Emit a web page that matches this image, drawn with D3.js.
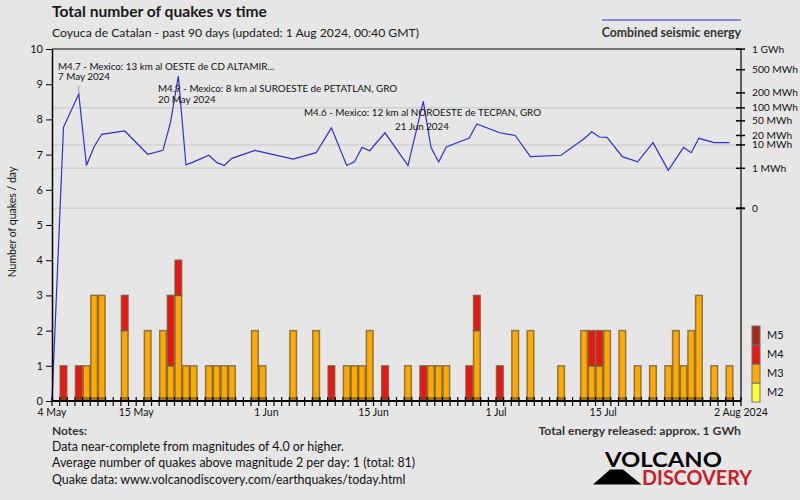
<!DOCTYPE html>
<html>
<head>
<meta charset="utf-8">
<script src="https://cdn.jsdelivr.net/npm/d3@7"></script>
<style>
  html, body { margin: 0; padding: 0; background: #e6e6e6; }
  svg { display: block; }
  text { font-family: Lato, "Open Sans", sans-serif; }
</style>
</head>
<body>
<svg id="chart" width="800" height="500"></svg>
<script>
// ---------------- DATA ----------------
const startDate = "2024-05-04";
const endDate = "2024-08-02";
const quakeDates = [
  "2024-05-05","2024-05-07","2024-05-08","2024-05-09","2024-05-10","2024-05-13",
  "2024-05-16","2024-05-18","2024-05-19","2024-05-20","2024-05-21","2024-05-22",
  "2024-05-24","2024-05-25","2024-05-26","2024-05-27","2024-05-30","2024-05-31",
  "2024-06-04","2024-06-07","2024-06-09","2024-06-11","2024-06-12","2024-06-13",
  "2024-06-14","2024-06-16","2024-06-19","2024-06-21","2024-06-22","2024-06-23",
  "2024-06-24","2024-06-27","2024-06-28","2024-07-01","2024-07-03","2024-07-05",
  "2024-07-09","2024-07-12","2024-07-13","2024-07-14","2024-07-15","2024-07-17",
  "2024-07-19","2024-07-21","2024-07-23","2024-07-24","2024-07-25","2024-07-26",
  "2024-07-27","2024-07-29","2024-07-31"
];
const m2Counts = quakeDates.map(() => 0);
const m3Counts = [
  0,0,1,3,3,2,
  2,2,1,3,1,1,
  1,1,1,1,2,1,
  2,2,0,1,1,1,
  2,0,1,0,1,1,
  1,0,2,0,2,2,
  1,2,1,1,2,2,
  1,1,1,2,1,2,
  3,1,1
];
const m4Counts = [
  1,1,0,0,0,1,
  0,0,2,1,0,0,
  0,0,0,0,0,0,
  0,0,1,0,0,0,
  0,1,0,1,0,0,
  0,1,1,1,0,0,
  0,0,1,1,0,0,
  0,0,0,0,0,0,
  0,0,0
];
const m5Counts = quakeDates.map(() => 0);
// daily combined seismic energy (MWh)
const energyMWh = [
  34,190,1.4,8.7,21.7,27,
  4.5,6.4,47.6,396,1.5,2.1,
  4.1,2.0,1.4,3.05,6.4,5.5,
  2.8,5.2,33,1.4,2.1,8.2,
  6.2,24,1.4,137,8.2,2.1,
  8.5,16.8,41.6,24,20,3.6,
  4.1,16,25.8,18,17.6,3.6,
  2.1,11.9,0.77,2.9,8.2,5.2,
  16.4,11.9,11.9
];
const countTicks = [0,1,2,3,4,5,6,7,8,9,10];
const energyTicks = [1000,500,200,100,50,20,10,1,0];
const energyTickLabels = ["1 GWh","500 MWh","200 MWh","100 MWh","50 MWh","20 MWh","10 MWh","1 MWh","0"];
const energyGrid = [100,10,1,0];
const xLabelDates = ["2024-05-04","2024-05-15","2024-06-01","2024-06-15","2024-07-01","2024-07-15","2024-08-02"];
const xLabels = ["4 May","15 May","1 Jun","15 Jun","1 Jul","15 Jul","2 Aug 2024"];
const annoTitles = [
  "M4.7 - Mexico: 13 km al OESTE de CD ALTAMIR...",
  "M4.9 - Mexico: 8 km al SUROESTE de PETATLAN, GRO",
  "M4.6 - Mexico: 12 km al NOROESTE de TECPAN, GRO"
];
const annoDates = ["7 May 2024","20 May 2024","21 Jun 2024"];
const magKeys = ["M2","M3","M4","M5"];
const magColors = ["#ffff33","#ffaa00","#ee1414","#a82a14"];
const notes = [
  "Data near-complete from magnitudes of 4.0 or higher.",
  "Average number of quakes above magnitude 2 per day: 1 (total: 81)",
  "Quake data: www.volcanodiscovery.com/earthquakes/today.html"
];

// ---------------- CHART ----------------
const svg = d3.select("#chart");
const parse = d3.utcParse("%Y-%m-%d");
const L = 52, R = 741, T = 49, B = 401;

svg.append("rect").attr("width", 800).attr("height", 500).attr("fill", "#e6e6e6");

const x = d3.scaleUtc().domain([parse(startDate), parse(endDate)]).range([L, R]);
const yC = d3.scaleLinear().domain([0, 10]).range([B, T]);
const yE = d3.scalePow().exponent(0.2).domain([0, 1000]).range([208.3, 49.1]);

// gridlines
svg.append("g").selectAll("line").data(energyGrid).join("line")
  .attr("x1", L).attr("x2", R)
  .attr("y1", d => yE(d)).attr("y2", d => yE(d))
  .attr("stroke", "#d0d0d0").attr("stroke-width", 1.5);

// bars
const rows = quakeDates.map((d, i) => ({
  date: parse(d), M2: m2Counts[i], M3: m3Counts[i], M4: m4Counts[i], M5: m5Counts[i]
}));
const stacked = d3.stack().keys(magKeys)(rows);
const color = d3.scaleOrdinal().domain(magKeys).range(magColors);
const barG = svg.append("g");
stacked.forEach(layer => {
  barG.append("g").selectAll("rect")
    .data(layer.filter(s => s[1] - s[0] > 0)).join("rect")
    .attr("x", s => x(s.data.date) + 0.5)
    .attr("width", s => x(d3.utcDay.offset(s.data.date, 1)) - x(s.data.date) - 1)
    .attr("y", s => yC(s[1]))
    .attr("height", s => yC(s[0]) - yC(s[1]))
    .attr("fill", color(layer.key))
    .attr("stroke", "#6e5a36").attr("stroke-opacity", 0.75).attr("stroke-width", 1.5);
});
// dark bottom band of each bar
barG.append("g").selectAll("rect").data(rows).join("rect")
  .attr("x", d => x(d.date) + 0.5)
  .attr("width", d => x(d3.utcDay.offset(d.date, 1)) - x(d.date) - 1)
  .attr("y", yC(0) - 4).attr("height", 4)
  .attr("fill", "#5a4820").attr("opacity", 0.55);

// energy line
const pts = [[x(parse(startDate)), yC(0)]].concat(
  rows.map((d, i) => [x(d3.utcHour.offset(d.date, 12)), yE(energyMWh[i])])
);
svg.append("path").attr("d", d3.line()(pts))
  .attr("fill", "none").attr("stroke", "#3030cc").attr("stroke-width", 1.2);

// plot frame
svg.append("line").attr("x1", L).attr("x2", R).attr("y1", T).attr("y2", T).attr("stroke", "#000").attr("stroke-width", 1.2);
svg.append("line").attr("x1", R).attr("x2", R).attr("y1", T).attr("y2", B).attr("stroke", "#000").attr("stroke-width", 1.2);

// left axis
const gl = svg.append("g").attr("transform", `translate(${L},0)`)
  .call(d3.axisLeft(yC).tickValues(countTicks).tickSize(6).tickSizeOuter(0).tickPadding(3));
gl.select(".domain").attr("stroke", "#000").attr("stroke-width", 1.5);
gl.selectAll(".tick line").attr("stroke", "#000");
gl.selectAll("text").attr("font-family", "Lato").attr("font-size", 11).attr("fill", "#111");

svg.append("text").attr("transform", "translate(16,222) rotate(-90)")
  .attr("text-anchor", "middle").attr("font-size", 10.5).attr("fill", "#111")
  .text("Number of quakes / day");

// right axis (energy)
const gr = svg.append("g");
gr.selectAll("line").data(energyTicks).join("line")
  .attr("x1", R - 5).attr("x2", R + 4)
  .attr("y1", d => yE(d)).attr("y2", d => yE(d))
  .attr("stroke", "#000").attr("stroke-width", (d) => d === 0 ? 2 : 1.5);
gr.selectAll("text").data(energyTicks).join("text")
  .attr("x", R + 11).attr("y", d => yE(d)).attr("dy", "0.35em")
  .attr("font-size", 10.2).attr("fill", "#111")
  .text((d, i) => energyTickLabels[i]);

// x axis
const allDays = d3.utcDay.range(parse(startDate), d3.utcDay.offset(parse(endDate), 1));
svg.append("line").attr("x1", L).attr("x2", R).attr("y1", B).attr("y2", B).attr("stroke", "#000").attr("stroke-width", 2);
svg.append("g").selectAll("line").data(allDays).join("line")
  .attr("x1", d => x(d)).attr("x2", d => x(d))
  .attr("y1", B - 4).attr("y2", B + 5)
  .attr("stroke", "#000").attr("stroke-width", 1.2);
svg.append("g").selectAll("text").data(xLabelDates).join("text")
  .attr("x", d => x(parse(d))).attr("y", 416)
  .attr("text-anchor", "middle").attr("font-size", 10.5).attr("fill", "#111")
  .text((d, i) => xLabels[i]);

// annotations
const anno = svg.append("g").attr("font-size", 9.8).attr("fill", "#111");
svg.append("line").attr("x1", x(d3.utcHour.offset(parse("2024-05-07"), 12)))
  .attr("x2", x(d3.utcHour.offset(parse("2024-05-07"), 12)))
  .attr("y1", 86).attr("y2", yE(energyMWh[1])).attr("stroke", "#999").attr("stroke-width", 1);
anno.append("text").attr("x", 58).attr("y", 69.5).text(annoTitles[0]);
anno.append("text").attr("x", 58).attr("y", 79.5).text(annoDates[0]);
anno.append("text").attr("x", 158).attr("y", 91.5).text(annoTitles[1]);
anno.append("text").attr("x", 158).attr("y", 103).text(annoDates[1]);
anno.append("text").attr("x", 422.5).attr("y", 115.5).attr("text-anchor", "middle").text(annoTitles[2]);
anno.append("text").attr("x", 422).attr("y", 129.5).attr("text-anchor", "middle").text(annoDates[2]);

// titles
svg.append("text").attr("x", 52).attr("y", 17).attr("font-size", 15.6).attr("font-weight", "bold")
  .attr("fill", "#1a1a1a").text("Total number of quakes vs time");
svg.append("text").attr("x", 52).attr("y", 37).attr("font-size", 12.2).attr("fill", "#1a1a1a")
  .text("Coyuca de Catalan - past 90 days (updated: 1 Aug 2024, 00:40 GMT)");

// energy legend
svg.append("line").attr("x1", 602).attr("x2", 741).attr("y1", 20).attr("y2", 20)
  .attr("stroke", "#3030cc").attr("stroke-width", 1.2);
svg.append("text").attr("x", 741).attr("y", 37).attr("text-anchor", "end")
  .attr("font-size", 12.3).attr("font-weight", "bold").attr("fill", "#333")
  .text("Combined seismic energy");

// magnitude legend
const legY = d3.scaleBand().domain(magKeys.slice().reverse()).range([326, 402]);
const lg = svg.append("g");
lg.selectAll("rect").data(magKeys).join("rect")
  .attr("x", 752).attr("width", 8)
  .attr("y", d => legY(d)).attr("height", legY.bandwidth())
  .attr("fill", d => color(d)).attr("stroke", "#6e6e6e").attr("stroke-width", 1);
lg.selectAll("text").data(magKeys).join("text")
  .attr("x", 767).attr("y", d => legY(d) + legY.bandwidth() / 2).attr("dy", "0.35em")
  .attr("font-size", 11).attr("fill", "#111").text(d => d);

// notes
svg.append("text").attr("x", 52).attr("y", 435).attr("font-size", 12).attr("font-weight", "bold")
  .attr("fill", "#333").text("Notes:");
svg.append("g").selectAll("text").data(notes).join("text")
  .attr("x", 52).attr("y", (d, i) => 451 + i * 16.3)
  .attr("font-size", 12.4).attr("fill", "#111").text(d => d);
svg.append("text").attr("x", 741).attr("y", 435).attr("text-anchor", "end")
  .attr("font-size", 12.2).attr("font-weight", "bold").attr("fill", "#333")
  .text("Total energy released: approx. 1 GWh");

// logo
const logo = svg.append("g");
logo.append("polygon").attr("points", "593,484.5 610,469.5 623,469.5 641.5,484.5").attr("fill", "#000");
logo.append("text").attr("x", 605).attr("y", 467.3)
  .attr("font-family", "DejaVu Sans").attr("font-weight", "bold").attr("font-size", 21.5)
  .attr("textLength", 117).attr("lengthAdjust", "spacingAndGlyphs").attr("fill", "#000")
  .text("VOLCANO");
logo.append("text").attr("x", 642).attr("y", 484.5)
  .attr("font-family", "DejaVu Sans").attr("font-weight", "bold").attr("font-size", 20)
  .attr("textLength", 110).attr("lengthAdjust", "spacingAndGlyphs").attr("fill", "#c8202a")
  .text("DISCOVERY");
</script>
</body>
</html>
